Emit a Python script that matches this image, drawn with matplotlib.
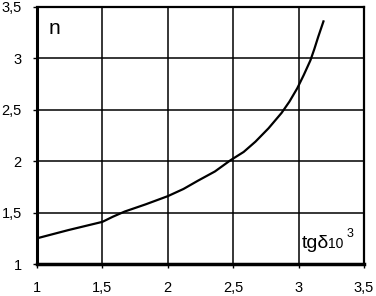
import numpy as np
import matplotlib
matplotlib.use('Agg')
import matplotlib.pyplot as plt

# curve n(tg delta * 10^3)
tg = [1.0, 1.12, 1.24, 1.37, 1.5, 1.58, 1.67, 1.83, 2.0, 2.12, 2.23, 2.36, 2.48,
      2.58, 2.67, 2.77, 2.87, 2.93, 2.99, 3.04, 3.09, 3.12, 3.15, 3.19]
n = [1.25, 1.29, 1.33, 1.37, 1.41, 1.46, 1.51, 1.58, 1.66, 1.73, 1.81, 1.90, 2.01,
     2.09, 2.19, 2.32, 2.47, 2.58, 2.71, 2.84, 2.98, 3.09, 3.21, 3.36]

xticks = [1, 1.5, 2, 2.5, 3, 3.5]
xlabels = ['1', '1,5', '2', '2,5', '3', '3,5']
yticks = [1, 1.5, 2, 2.5, 3, 3.5]
ylabels = ['1', '1,5', '2', '2,5', '3', '3,5']

plt.rcParams['font.family'] = ['Liberation Sans', 'DejaVu Sans']

fig = plt.figure(figsize=(3.76, 2.96), dpi=100)
ax = fig.add_axes([37/376, 1-264/296, (364-37)/376, (264-7)/296])

ax.plot(tg, n, color='black', lw=1.6, solid_joinstyle='round')

ax.set_xlim(1, 3.5)
ax.set_ylim(1, 3.5)
ax.set_xticks(xticks)
ax.set_xticklabels(xlabels)
ax.set_yticks(yticks)
ax.set_yticklabels(ylabels)
ax.tick_params(direction='out', length=3, width=1, labelsize=10.5, pad=9)
ax.tick_params(axis='y', pad=8)
ax.grid(True, color='black', lw=1.1)
for s in ax.spines.values():
    s.set_linewidth(1.6)
ax.spines['left'].set_linewidth(2.2)
ax.spines['bottom'].set_linewidth(2.5)

ax.text(0.035, 0.955, 'n', transform=ax.transAxes, fontsize=15, va='top', ha='left')
# axis label tgδ·10³ drawn in pieces like the original
fig.text(302/376, 1-248/296, 'tgδ', fontsize=14, va='baseline', ha='left')
fig.text(328/376, 1-248/296, '10', fontsize=10, va='baseline', ha='left')
fig.text(347/376, 1-237/296, '3', fontsize=9, va='baseline', ha='left')

fig.savefig('out.png', dpi=100)
